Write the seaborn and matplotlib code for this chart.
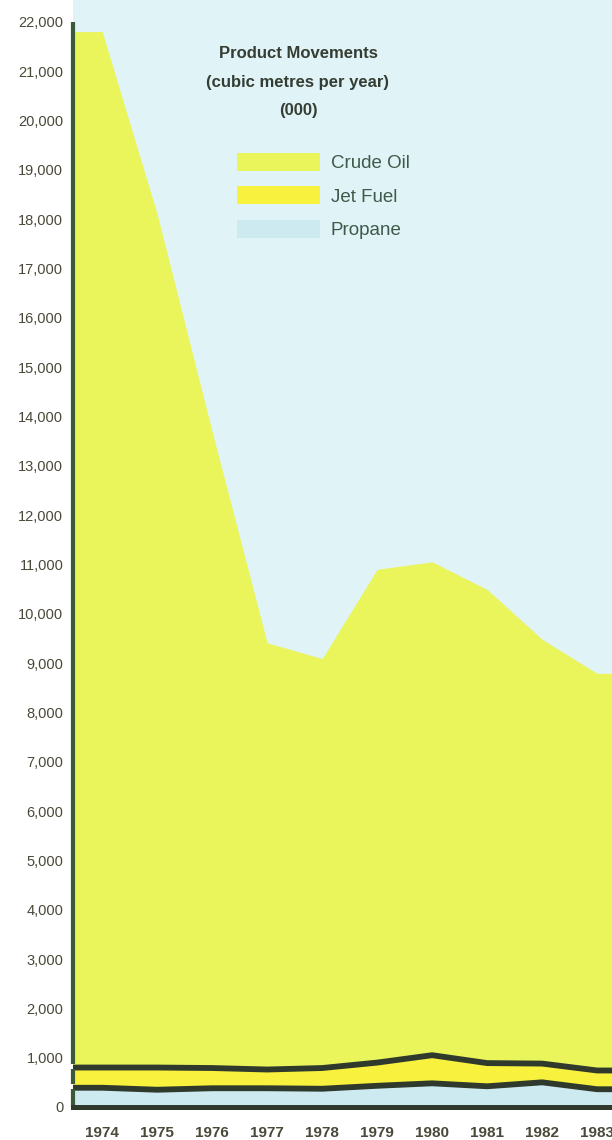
import numpy as np
import pandas as pd
import matplotlib
matplotlib.use("Agg")
import matplotlib.pyplot as plt
import seaborn as sns
from matplotlib.patches import Patch

# Annual product movements, thousands of cubic metres
years = [1974, 1975, 1976, 1977, 1978, 1979, 1980, 1981, 1982, 1983]
propane = [390, 350, 380, 380, 370, 430, 480, 420, 500, 360]
jet_fuel = [410, 450, 410, 380, 420, 470, 570, 470, 380, 380]
crude_oil = [21000, 17300, 12900, 8650, 8300, 10000, 10000, 9600, 8600, 8050]

y_ticks = list(range(0, 22001, 1000))
y_labels = [f"{v:,}" for v in y_ticks]
series_names = ["Crude Oil", "Jet Fuel", "Propane"]
title_lines = ["Product Movements", "(cubic metres per year)", "(000)"]

PAGE = "#ffffff"
SKY = "#e0f3f6"
CRUDE = "#e9f55a"
JET = "#f8f13e"
PROPANE = "#cdeaf0"
RULE = "#2f3a2c"
SPINE = "#3b5a3a"
TEXT = "#353d33"
LEGEND_TEXT = "#3e5a4a"
TICK_TEXT = "#4a4838"

sns.set_theme(style="white")
plt.rcParams["font.family"] = ["Liberation Sans", "DejaVu Sans"]

fig = plt.figure(figsize=(6.12, 11.40), dpi=100, facecolor=PAGE)
ax = fig.add_axes([73 / 612, 33 / 1140, 1 - 73 / 612, 1 - 33 / 1140])
ax.set_facecolor(SKY)

x_lo, x_hi = 1973.47, 1983.27
ax.set_xlim(x_lo, x_hi)
ax.set_ylim(0, 22440)

# the bands run flush to both edges of the frame
xs = np.r_[x_lo, years, x_hi]
def edge(v):
    return np.pad(np.asarray(v, float), 1, mode="edge")

p = edge(propane)
j = p + edge(jet_fuel)
c = j + edge(crude_oil)

ax.fill_between(xs, 0, p, color=PROPANE, lw=0, zorder=1)
ax.fill_between(xs, p, j, color=JET, lw=0, zorder=1)
ax.fill_between(xs, j, c, color=CRUDE, lw=0, zorder=1)

lines = pd.DataFrame({"year": np.r_[xs, xs],
                      "level": np.r_[p, j],
                      "edge": ["propane"] * len(xs) + ["jet"] * len(xs)})
sns.lineplot(data=lines, x="year", y="level", units="edge", estimator=None,
             color=RULE, lw=4.2, ax=ax, zorder=3, sort=False,
             solid_capstyle="round")

# left rule, broken where each band starts
gap = 70
segments = [(0, p[0] - gap / 2), (p[0] + gap, j[0] - gap / 2), (j[0] + gap, c[0] + 200)]
for lo, hi in segments:
    ax.plot([x_lo, x_lo], [lo, hi], color=SPINE, lw=3.0, clip_on=False,
            zorder=4, solid_capstyle="butt")

for side in ["top", "right", "left"]:
    ax.spines[side].set_visible(False)
ax.spines["bottom"].set_color(RULE)
ax.spines["bottom"].set_linewidth(3.6)
ax.spines["bottom"].set_zorder(5)

ax.set_yticks(y_ticks)
ax.set_yticklabels(y_labels)
ax.set_xticks(years)
ax.set_xticklabels([str(y) for y in years])
ax.tick_params(axis="y", length=0, pad=7, labelsize=10.5, labelcolor=TICK_TEXT)
ax.tick_params(axis="x", length=0, pad=14, labelsize=11, labelcolor=TICK_TEXT)
for lab in ax.get_xticklabels():
    lab.set_fontweight("semibold")
ax.set_xlabel("")
ax.set_ylabel("")
ax.grid(False)

for txt, ypix in zip(title_lines, [54, 82, 110]):
    fig.text(298 / 612, 1 - ypix / 1140, txt, ha="center", va="center",
             fontsize=12, fontweight="bold", color=TEXT)

handles = [Patch(facecolor=CRUDE, edgecolor="none"),
           Patch(facecolor=JET, edgecolor="none"),
           Patch(facecolor=PROPANE, edgecolor="none")]
leg = fig.legend(handles, series_names, loc="upper left",
                 bbox_to_anchor=(237 / 612, 1 - 153 / 1140),
                 frameon=False, borderpad=0, borderaxespad=0,
                 handlelength=4.45, handleheight=1.07, handletextpad=0.55,
                 labelspacing=0.76, prop={"size": 13.5})
for t in leg.get_texts():
    t.set_color(LEGEND_TEXT)

fig.savefig("out.png", dpi=100, facecolor=PAGE)
